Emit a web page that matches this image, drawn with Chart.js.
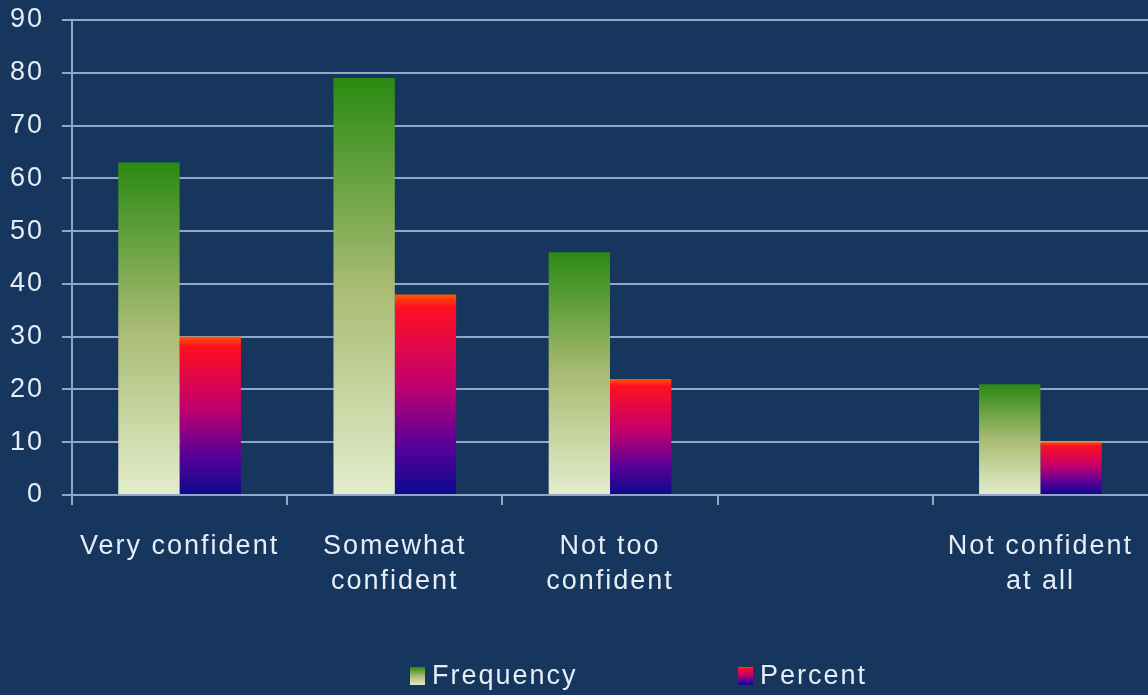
<!DOCTYPE html>
<html>
<head>
<meta charset="utf-8">
<script src="https://cdn.jsdelivr.net/npm/chart.js@4/dist/chart.umd.min.js"></script>
<style>
  html, body { margin: 0; padding: 0; background: #17365d; }
  #wrap { width: 1148px; height: 695px; }
</style>
</head>
<body>
<div id="wrap"><canvas id="chart"></canvas></div>
<script>
/* ── Chart data ── */
var categories = [['Very confident'], ['Somewhat', 'confident'], ['Not too', 'confident'], '', ['Not confident', 'at all']];
var frequency = [63, 79, 46, null, 21];
var percent = [30, 38, 22, null, 10];
var yTicks = [0, 10, 20, 30, 40, 50, 60, 70, 80, 90];

var textColor = '#e6edf7';
var gridColor = '#93a6c6';
var fontFamily = '"Liberation Sans", Arial, sans-serif';

// Colour stops, top of bar first
var greenStops = [[0, '#2b8a12'], [0.5, '#a9bb73'], [1, '#e3edcc']];
var redStops = [[0, '#ff5a00'], [0.06, '#ff1020'], [0.45, '#c2006e'], [0.75, '#5a0098'], [1, '#0b0a8e']];

function makeGradient(c, yTop, yBottom, stops) {
    var g = c.createLinearGradient(0, yTop, 0, yBottom);
    stops.forEach(function (s) { g.addColorStop(s[0], s[1]); });
    return g;
}

// Per-bar gradient built from the y scale
function barFill(stops) {
    return function (ctx) {
        var chart = ctx.chart;
        if (!chart.chartArea || !chart.scales.y || ctx.raw == null) return stops[0][1];
        var y = chart.scales.y;
        return makeGradient(chart.ctx, y.getPixelForValue(ctx.raw), y.getPixelForValue(0), stops);
    };
}

// The original type is set wide; spread the letters a little
var wideText = {
    id: 'wideText',
    beforeDraw: function (chart) { chart.ctx.letterSpacing = '2px'; }
};

// Bottom legend with gradient boxes, spaced like the original
var bottomLegend = {
    id: 'bottomLegend',
    afterDraw: function (chart) {
        var c = chart.ctx;
        var items = [
            { label: chart.data.datasets[0].label, stops: greenStops, x: 410 },
            { label: chart.data.datasets[1].label, stops: redStops, x: 738 }
        ];
        var cy = 676;
        c.save();
        c.font = '27px ' + fontFamily;
        c.textBaseline = 'middle';
        c.textAlign = 'left';
        items.forEach(function (it) {
            c.fillStyle = makeGradient(c, cy - 9, cy + 9, it.stops);
            c.fillRect(it.x, cy - 9, 15, 18);
            c.fillStyle = textColor;
            c.fillText(it.label, it.x + 22, cy + 1);
        });
        c.restore();
    }
};

new Chart(document.getElementById('chart').getContext('2d'), {
    type: 'bar',
    data: {
        labels: categories,
        datasets: [
            { label: 'Frequency', data: frequency, backgroundColor: barFill(greenStops), borderWidth: 0 },
            { label: 'Percent', data: percent, backgroundColor: barFill(redStops), borderWidth: 0 }
        ]
    },
    options: {
        responsive: true,
        maintainAspectRatio: false,
        animation: false,
        categoryPercentage: 0.57,
        barPercentage: 1.0,
        layout: { padding: { top: 20, right: 0, bottom: 85, left: 0 } },
        plugins: {
            legend: { display: false },
            tooltip: { enabled: false }
        },
        scales: {
            x: {
                grid: {
                    display: true, offset: true, drawOnChartArea: false, drawTicks: true, tickLength: 10, lineWidth: 2,
                    // no tick mark on the far right edge
                    color: function (ctx) { return ctx.tick ? gridColor : 'rgba(0,0,0,0)'; }
                },
                border: { display: false },
                ticks: { color: textColor, padding: 24, maxRotation: 0, autoSkip: false, font: { family: fontFamily, size: 27, lineHeight: 1.3 } },
                afterFit: function (scale) { scale.height = 115; scale.paddingRight = 0; }
            },
            y: {
                min: 0,
                max: 90,
                afterBuildTicks: function (scale) { scale.ticks = yTicks.map(function (v) { return { value: v }; }); },
                grid: { color: gridColor, lineWidth: 2, tickLength: 10 },
                border: { display: true, color: gridColor, width: 2 },
                ticks: { color: textColor, padding: 18, font: { family: fontFamily, size: 27 } },
                afterFit: function (scale) { scale.width = 72; scale.paddingTop = 0; scale.paddingBottom = 0; }
            }
        }
    },
    plugins: [wideText, bottomLegend]
});
</script>
</body>
</html>
